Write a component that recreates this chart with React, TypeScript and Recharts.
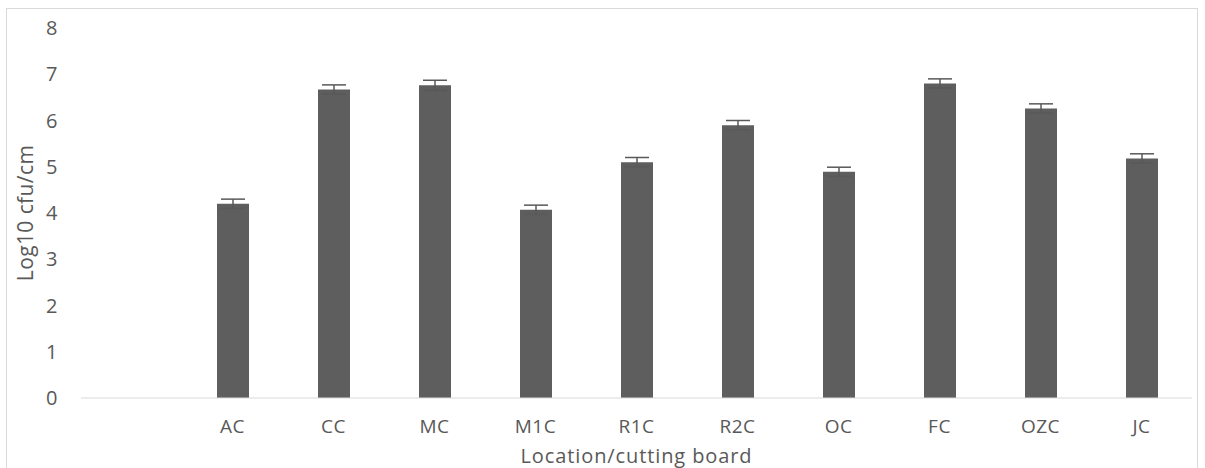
import React from "react";
import { BarChart, Bar, XAxis, YAxis, ErrorBar, Label } from "recharts";

const categories = ["", "AC", "CC", "MC", "M1C", "R1C", "R2C", "OC", "FC", "OZC", "JC"];
const values: (number | null)[] = [null, 4.2, 6.67, 6.76, 4.07, 5.1, 5.9, 4.89, 6.8, 6.26, 5.18];
const errors: (number | null)[] = [null, 0.1, 0.1, 0.11, 0.1, 0.1, 0.1, 0.1, 0.1, 0.1, 0.1];
const yTicks = [0, 1, 2, 3, 4, 5, 6, 7, 8];

const data = categories.map((c, i) => ({ name: c, value: values[i], err: errors[i] }));

const FONT = "'Open Sans', sans-serif";
const TXT = "#595959";
const FS = 19;
const LS = 0.5;

export default function App() {
  return (
    <div style={{ position: "absolute", left: 0, top: 0, width: 1205, height: 468, background: "#fff" }}>
      <div
        style={{
          position: "absolute",
          left: 6,
          top: 8,
          width: 1192,
          height: 470,
          border: "1px solid #d9d9d9",
          boxSizing: "border-box",
        }}
      />
      <div style={{ position: "absolute", left: 0, top: 0 }}>
        <BarChart
          width={1205}
          height={468}
          data={data}
          margin={{ top: 28, right: 13, bottom: 0, left: 0 }}
          barSize={32}
        >
          <XAxis
            dataKey="name"
            height={70}
            tickLine={false}
            axisLine={{ stroke: "#d9d9d9", strokeWidth: 1 }}
            tick={{ fill: TXT, fontSize: FS, fontFamily: FONT, letterSpacing: LS }}
            tickMargin={16}
            interval={0}
          >
            <Label
              value="Location/cutting board"
              position="insideBottom"
              offset={5}
              style={{ fill: TXT, fontSize: FS + 1, fontFamily: FONT, letterSpacing: LS + 0.4 }}
            />
          </XAxis>
          <YAxis
            width={81}
            domain={[0, 8]}
            ticks={yTicks}
            tickLine={false}
            axisLine={false}
            tick={{ fill: TXT, fontSize: FS + 1, fontFamily: FONT, letterSpacing: LS }}
            tickMargin={17}
          >
            <Label
              value="Log10 cfu/cm"
              angle={-90}
              position="insideLeft"
              offset={26}
              style={{ fill: TXT, fontSize: FS + 2, fontFamily: FONT, textAnchor: "middle", letterSpacing: 0.4 }}
            />
          </YAxis>
          <Bar dataKey="value" fill="#5e5e5e" isAnimationActive={false}>
            <ErrorBar dataKey="err" width={12} stroke="#595959" strokeWidth={1.5} direction="y" />
          </Bar>
        </BarChart>
      </div>
    </div>
  );
}
